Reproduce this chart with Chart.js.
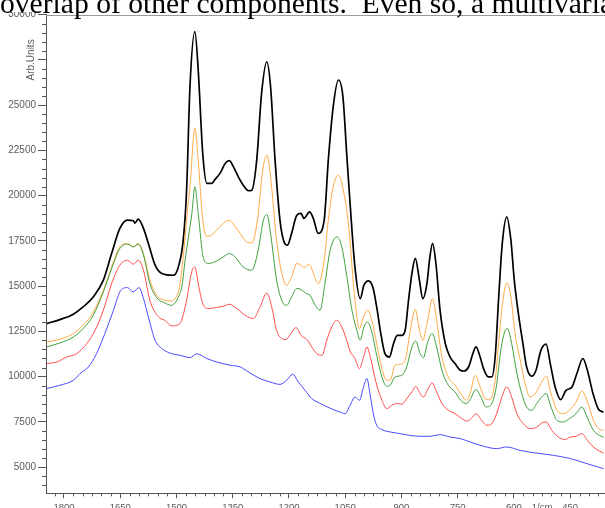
<!DOCTYPE html>
<html><head><meta charset="utf-8">
<script src="https://cdn.jsdelivr.net/npm/chart.js@4.4.1/dist/chart.umd.min.js"></script>
<style>
html,body{margin:0;padding:0;background:#fff;width:605px;height:508px;overflow:hidden;}
#wrap{position:relative;width:605px;height:508px;overflow:hidden;}
#doc{position:absolute;left:0;top:-11px;width:605px;height:32px;font-family:'Liberation Serif','Times New Roman',serif;font-size:29.6px;line-height:29.6px;white-space:pre;overflow:hidden;color:#000;z-index:2;}
#holder{position:absolute;left:0;top:12px;width:605px;height:496px;}
</style></head><body>
<div id="wrap">
<div id="doc">overlap of other components.  Even so, a multivariate</div>
<div id="holder"><canvas id="c" width="605" height="496"></canvas></div>
</div>
<script>
// wavenumber (1/cm), arbitrary units
const black = [[1846,12930],[1811,13150],[1775,13450],[1749,13850],[1722,14400],[1695,15330],[1673,16800],[1651,18190],[1631,18650],[1615,18610],[1611,18480],[1602,18700],[1588,18190],[1575,17360],[1557,16160],[1539,15700],[1508,15600],[1495,16060],[1482,17540],[1473,20300],[1464,26020],[1451,29060],[1442,26940],[1430,22350],[1419,20680],[1406,20680],[1397,20900],[1384,21230],[1370,21780],[1359,21930],[1348,21590],[1335,21040],[1322,20580],[1308,20270],[1299,20300],[1286,21960],[1273,25650],[1259,27400],[1249,26020],[1237,21960],[1224,18650],[1213,17440],[1204,17260],[1193,17910],[1179,18920],[1168,19020],[1160,18740],[1145,19100],[1135,18740],[1122,17910],[1106,18650],[1095,21960],[1082,24910],[1068,26390],[1056,25460],[1046,22330],[1037,19590],[1024,16060],[1010,14310],[1000,15050],[988,15290],[976,14920],[966,13850],[955,12380],[944,11270],[932,11080],[921,11830],[911,12280],[899,12280],[890,12560],[881,14220],[872,15700],[863,16530],[852,15330],[843,14310],[832,15140],[824,16620],[817,17360],[808,16250],[797,13670],[783,11830],[770,11080],[757,10720],[743,10350],[733,10310],[721,10530],[708,11360],[701,11640],[690,11080],[681,10440],[668,9980],[659,9980],[650,11080],[641,14220],[631,17360],[619,18830],[608,17540],[599,15330],[588,13480],[576,11830],[566,10530],[552,10020],[541,10350],[528,11450],[514,11790],[503,10720],[490,9430],[475,8730],[461,9240],[445,9430],[432,10170],[416,11000],[404,10350],[389,9060],[374,8180],[361,8040]];
const orange = [[1846,11910],[1811,12060],[1775,12380],[1749,12840],[1722,13570],[1695,14770],[1673,16060],[1651,17170],[1631,17360],[1615,17170],[1602,17360],[1588,16800],[1571,15330],[1553,14500],[1531,14220],[1513,14180],[1495,14680],[1491,15050],[1482,16620],[1468,19750],[1464,20490],[1451,23720],[1442,21960],[1430,18650],[1419,17760],[1406,17820],[1393,18090],[1375,18460],[1360,18650],[1348,18420],[1330,17910],[1313,17440],[1299,17390],[1284,18650],[1270,21410],[1259,22240],[1249,21040],[1233,17540],[1219,15700],[1206,15050],[1193,15510],[1179,16250],[1168,16160],[1160,16030],[1145,16210],[1135,15700],[1122,15140],[1106,16430],[1095,18650],[1082,20490],[1068,21130],[1055,20300],[1041,18370],[1024,14220],[1012,12650],[1000,13390],[990,13670],[979,13110],[966,11830],[952,10440],[939,9800],[930,9800],[917,10630],[904,10680],[890,10900],[877,12470],[863,13710],[852,12560],[843,12010],[831,13020],[817,14310],[806,13110],[792,11080],[775,9980],[757,9520],[739,8970],[727,8690],[717,9060],[703,10070],[690,9430],[677,8780],[664,8730],[650,9800],[637,12740],[628,14400],[619,15180],[608,14400],[597,12380],[583,10900],[570,9610],[557,8870],[543,9060],[528,9610],[514,10020],[501,9060],[485,8140],[468,7950],[450,8180],[434,8600],[419,9200],[405,8690],[388,7580],[374,7120],[361,7030]];
const green = [[1846,11640],[1811,11860],[1775,12190],[1749,12650],[1722,13390],[1695,14680],[1673,15970],[1651,17080],[1631,17320],[1615,17170],[1602,17320],[1588,16710],[1571,15140],[1553,14370],[1531,14070],[1513,13940],[1495,14400],[1485,15050],[1477,16430],[1468,17720],[1459,19000],[1451,20490],[1442,19020],[1428,16530],[1415,16250],[1393,16390],[1375,16620],[1359,16800],[1344,16620],[1322,16060],[1299,15880],[1282,16990],[1268,18650],[1259,18960],[1249,17910],[1233,15330],[1215,14040],[1206,13940],[1193,14400],[1179,14870],[1168,14810],[1154,14590],[1144,14500],[1130,13940],[1117,13670],[1104,15140],[1090,16990],[1072,17720],[1059,17170],[1046,15600],[1032,13670],[1019,12560],[1010,12010],[1000,12740],[991,13020],[979,12470],[966,11180],[952,9980],[939,9460],[930,9520],[917,9980],[899,10070],[886,10530],[872,11640],[862,11970],[850,11270],[841,11050],[831,11830],[818,12380],[806,11640],[792,10350],[775,9520],[757,9150],[742,8690],[726,8510],[717,8730],[701,9280],[688,8870],[674,8320],[662,8410],[647,9430],[635,11450],[623,12560],[617,12650],[606,11830],[592,10170],[579,9060],[566,8320],[552,8140],[539,8510],[526,8870],[514,9060],[501,8320],[485,7580],[468,7490],[452,7680],[434,7950],[419,8320],[405,7770],[388,7030],[372,6750],[361,6660]];
const red = [[1846,10720],[1819,10810],[1793,11080],[1766,11270],[1739,11830],[1717,12560],[1695,13670],[1673,15140],[1651,16160],[1631,16430],[1615,16210],[1602,16430],[1588,15880],[1571,14220],[1548,13300],[1531,13110],[1513,12800],[1491,12930],[1473,14220],[1459,15820],[1451,16060],[1442,15140],[1430,14040],[1415,13760],[1393,13820],[1375,13890],[1359,14000],[1339,13760],[1317,13390],[1295,13210],[1277,13850],[1259,14620],[1246,13850],[1233,12560],[1219,12100],[1208,12050],[1195,12380],[1181,12710],[1168,12280],[1152,12050],[1139,11640],[1126,11270],[1112,11180],[1099,12010],[1086,12740],[1072,13110],[1059,12740],[1046,12010],[1037,11400],[1024,11000],[1012,10440],[1001,11080],[992,11640],[982,11000],[968,9700],[952,8690],[939,8230],[926,8410],[912,8510],[899,8470],[886,8780],[872,9150],[862,9460],[850,9060],[841,8870],[831,9240],[818,9650],[806,9150],[792,8510],[775,8140],[757,7950],[739,7680],[724,7540],[710,7770],[701,7950],[686,7580],[672,7310],[659,7400],[646,7950],[632,8870],[619,9430],[606,8870],[592,7950],[575,7400],[557,7120],[539,7210],[526,7430],[514,7490],[499,7030],[481,6660],[463,6520],[450,6660],[434,6700],[419,6850],[404,6480],[388,6110],[372,5890],[361,5770]];
const blue = [[1846,9340],[1811,9520],[1775,9800],[1757,10170],[1735,10530],[1713,11270],[1691,12380],[1668,13670],[1651,14680],[1631,14920],[1615,14680],[1600,14920],[1588,14310],[1575,13300],[1557,12010],[1535,11490],[1513,11270],[1491,11180],[1464,11050],[1446,11260],[1419,11000],[1393,10810],[1357,10630],[1330,10530],[1304,10200],[1277,9890],[1250,9700],[1224,9570],[1206,9800],[1190,10130],[1175,9700],[1157,9240],[1139,8780],[1117,8520],[1090,8250],[1064,8040],[1050,7950],[1037,8410],[1024,8870],[1012,8690],[1001,9430],[992,9890],[984,9060],[975,7950],[966,7310],[952,7070],[930,6940],[904,6850],[877,6750],[850,6700],[824,6700],[797,6790],[770,6660],[743,6570],[717,6390],[681,6150],[646,6020],[619,6110],[583,5920],[539,5770],[495,5650],[450,5470],[405,5190],[361,4910]];

const xTickValues = [450, 525, 600, 750, 900, 1050, 1200, 1350, 1500, 1650, 1800];
const xUnitTick = 525, xUnitLabel = '1/cm';
const yTickValues = [5000, 7500, 10000, 12500, 15000, 17500, 20000, 22500, 25000, 27500, 30000];
const yUnitTick = 27500, yUnitLabel = 'Arb.Units';
const xRange = [357, 1848], yRange = [3550, 30000];

const axisColor = '#555555', labelColor = '#5a5a5a', frameColor = '#9a9a9a';
const series = [
  {data: blue,   color: '#4a4aff', width: 1},
  {data: red,    color: '#ff4d4d', width: 1},
  {data: green,  color: '#3f9f3f', width: 1},
  {data: orange, color: '#ffaa44', width: 1},
  {data: black,  color: '#000000', width: 1.7}
];

const extras = {
  id: 'extras',
  afterDraw(chart) {
    const {ctx, scales: {x, y}} = chart;
    ctx.save();
    ctx.strokeStyle = axisColor; ctx.lineWidth = 1;
    ctx.beginPath();
    for (let v = 4000; v < 30000; v += 500) {
      if (v % 2500 === 0) continue;
      const p = Math.round(y.getPixelForValue(v)) + 0.5;
      ctx.moveTo(x.left - 4, p); ctx.lineTo(x.left, p);
    }
    for (let v = 375; v <= 1850; v += 25) {
      if (v % 150 === 0) continue;
      const px = x.getPixelForValue(v);
      if (px < x.left - 0.5 || px > x.right) continue;
      const p = Math.round(px) + 0.5;
      ctx.moveTo(p, y.bottom); ctx.lineTo(p, y.bottom + 3);
    }
    ctx.stroke();
    ctx.strokeStyle = frameColor;
    ctx.beginPath();
    const t = Math.round(y.top) + 0.5;
    ctx.moveTo(x.left, t); ctx.lineTo(x.right, t);
    ctx.stroke();
    ctx.fillStyle = labelColor;
    ctx.font = '10px "Liberation Sans", Arial, sans-serif';
    ctx.textAlign = 'center'; ctx.textBaseline = 'middle';
    ctx.translate(31, y.getPixelForValue(yUnitTick));
    ctx.rotate(-Math.PI / 2);
    ctx.fillText(yUnitLabel, 0, 0);
    ctx.restore();
  }
};

new Chart(document.getElementById('c'), {
  type: 'line',
  data: {
    datasets: series.map(s => ({
      data: s.data.map(p => ({x: p[0], y: p[1]})),
      borderColor: s.color, borderWidth: s.width,
      pointRadius: 0, fill: false, cubicInterpolationMode: 'monotone'
    }))
  },
  options: {
    responsive: false, animation: false, devicePixelRatio: 1,
    layout: {padding: {top: 2.7, left: 0, right: 0, bottom: 0}},
    plugins: {legend: {display: false}, tooltip: {enabled: false}},
    scales: {
      x: {
        type: 'linear', reverse: true, min: xRange[0], max: xRange[1],
        afterBuildTicks: s => { s.ticks = xTickValues.map(v => ({value: v})); },
        afterFit: s => { s.height = 14.7; s.paddingLeft = 0; s.paddingRight = 0; },
        ticks: {autoSkip: false, maxRotation: 0, minRotation: 0, padding: 3, color: labelColor,
          font: {family: '"Liberation Sans", Arial, sans-serif', size: 9.5},
          callback: v => v === xUnitTick ? xUnitLabel : String(v)},
        grid: {drawOnChartArea: false, drawTicks: true, tickLength: 5,
          tickColor: c => (c.tick && c.tick.value === xUnitTick) ? 'rgba(0,0,0,0)' : axisColor},
        border: {color: axisColor, width: 1}
      },
      y: {
        type: 'linear', min: yRange[0], max: yRange[1],
        afterBuildTicks: s => { s.ticks = yTickValues.map(v => ({value: v})); },
        afterFit: s => { s.width = 46; s.paddingTop = 0; s.paddingBottom = 0; },
        ticks: {padding: 2, color: labelColor,
          font: {family: '"Liberation Sans", Arial, sans-serif', size: 10},
          callback: v => v === yUnitTick ? '' : String(v)},
        grid: {drawOnChartArea: false, drawTicks: true, tickLength: 8, tickColor: axisColor},
        border: {color: axisColor, width: 1}
      }
    }
  },
  plugins: [extras]
});
</script>
</body></html>
